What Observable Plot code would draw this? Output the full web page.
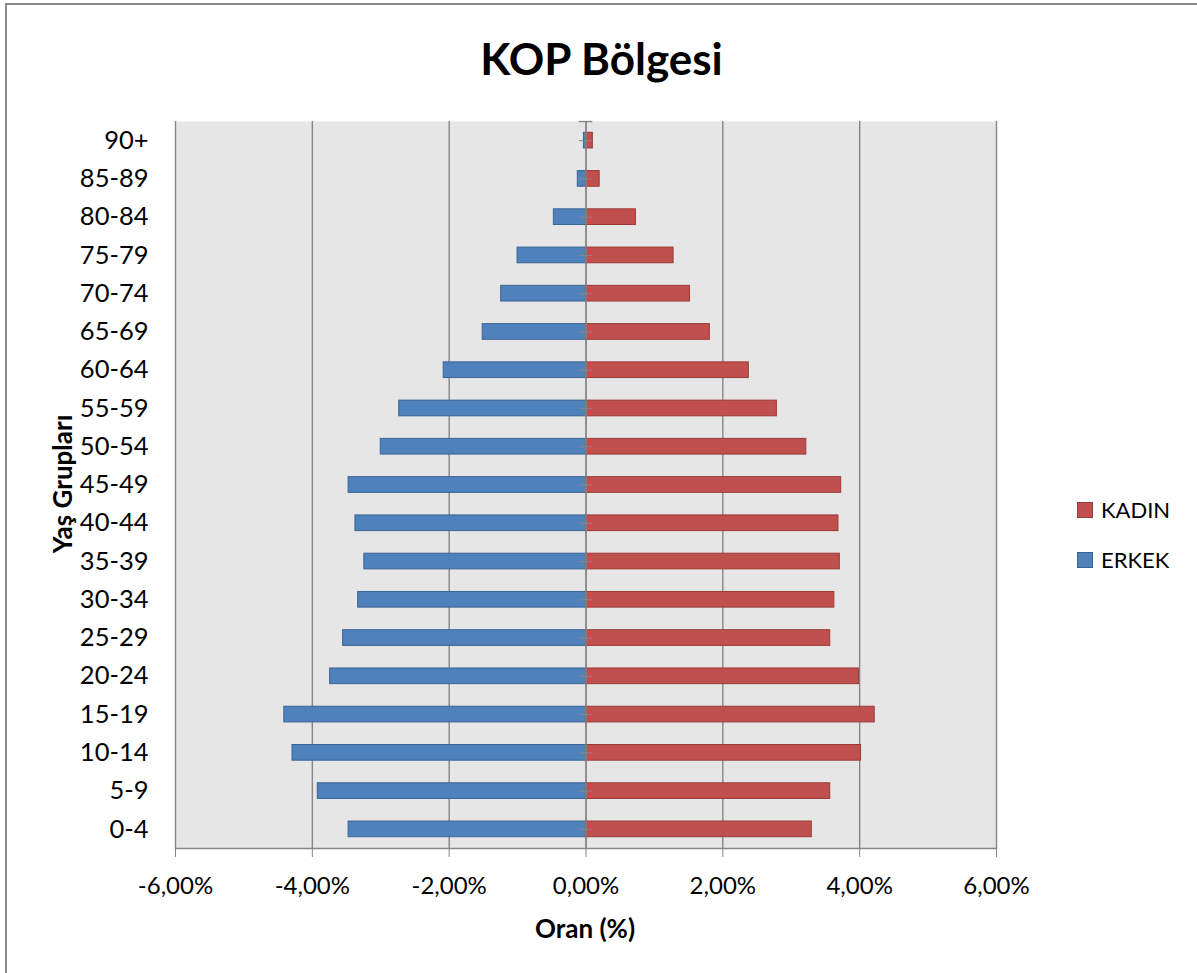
<!DOCTYPE html>
<html>
<head>
<meta charset="utf-8">
<script src="https://cdn.jsdelivr.net/npm/d3@7"></script>
<script src="https://cdn.jsdelivr.net/npm/@observablehq/plot@0.6"></script>
<style>
  html, body { margin: 0; padding: 0; background: #fff; overflow: hidden; }
  #wrap { position: relative; width: 1197px; height: 973px; font-family: Lato, "Open Sans", sans-serif; color: #000; }
  #border { position: absolute; left: 5px; top: 3px; width: 1300px; height: 1100px; border: 2px solid #8a8a8a; box-sizing: border-box; }
  #chart { position: absolute; left: 0; top: 0; }
  #title { position: absolute; left: 0; width: 1203px; top: 33px; text-align: center; font-weight: bold; font-size: 44px; line-height: 50px; }
  #ytitle { position: absolute; left: 62px; top: 484px; transform: translate(-50%, -50%) rotate(-90deg); font-weight: bold; font-size: 26px; white-space: nowrap; }
  #xtitle { position: absolute; left: 585px; top: 928px; transform: translate(-50%, -50%); font-weight: bold; font-size: 26px; white-space: nowrap; }
  .leg { position: absolute; left: 1077px; display: flex; align-items: center; font-size: 22px; }
  .sw { width: 14px; height: 14px; margin-right: 8px; border: 1px solid; }
</style>
</head>
<body>
<div id="wrap">
  <div id="border"></div>
  <div id="chart"></div>
  <div id="title">KOP Bölgesi</div>
  <div id="ytitle">Yaş Grupları</div>
  <div id="xtitle">Oran (%)</div>
  <div class="leg" style="top:496px"><div class="sw" style="background:#C0504D;border-color:#9A3B38"></div><span>KADIN</span></div>
  <div class="leg" style="top:546px"><div class="sw" style="background:#4F81BD;border-color:#3B6496"></div><span>ERKEK</span></div>
</div>
<script>
const ageGroups = ["0-4","5-9","10-14","15-19","20-24","25-29","30-34","35-39","40-44","45-49","50-54","55-59","60-64","65-69","70-74","75-79","80-84","85-89","90+"];
const erkek = [-3.47, -3.92, -4.29, -4.41, -3.74, -3.55, -3.33, -3.24, -3.37, -3.47, -3.00, -2.73, -2.08, -1.51, -1.24, -1.00, -0.47, -0.12, -0.03];
const kadin = [3.30, 3.57, 4.02, 4.22, 3.99, 3.57, 3.63, 3.71, 3.69, 3.73, 3.22, 2.79, 2.38, 1.81, 1.52, 1.28, 0.73, 0.20, 0.10];
const xTicks = [-6, -4, -2, 0, 2, 4, 6];

const maleData = ageGroups.map((a, i) => ({age: a, value: erkek[i]}));
const femaleData = ageGroups.map((a, i) => ({age: a, value: kadin[i]}));
const fmt = d => d.toFixed(2).replace(".", ",") + "%";
const gray = "#868686";

const chart = Plot.plot({
  width: 1197,
  height: 973,
  marginTop: 121,
  marginBottom: 125,
  marginLeft: 175,
  marginRight: 201,
  style: {fontFamily: "Lato, 'Open Sans', sans-serif", fontSize: "24px", color: "#000", background: "transparent", overflow: "visible"},
  x: {domain: [-6, 6]},
  y: {domain: ageGroups.slice().reverse(), paddingInner: 0.59, paddingOuter: 0.295, round: false},
  marks: [
    Plot.frame({fill: "#e6e6e6", stroke: "none"}),
    Plot.ruleX(xTicks, {stroke: gray, strokeWidth: 1.4}),
    Plot.barX(maleData, {y: "age", x: "value", fill: "#4F81BD", stroke: "#3B6496", strokeWidth: 1}),
    Plot.barX(femaleData, {y: "age", x: "value", fill: "#C0504D", stroke: "#9A3B38", strokeWidth: 1}),
    Plot.ruleX([0], {stroke: gray, strokeWidth: 1.4}),
    Plot.ruleY(ageGroups, {y: d => d, x1: -0.1, x2: 0.1, stroke: gray, strokeOpacity: 0.85, strokeWidth: 1.2}),
    Plot.ruleY([ageGroups[ageGroups.length - 1]], {y: d => d, x1: -0.1, x2: 0.1, dy: -19.1, stroke: gray, strokeWidth: 1.4}),
    Plot.frame({anchor: "bottom", stroke: gray, strokeWidth: 1.5}),
    Plot.axisX(xTicks, {tickSize: 9, tickPadding: 19, tickFormat: fmt, stroke: gray, label: null}),
    Plot.axisY({tickSize: 0, tickPadding: 27, label: null, fontSize: 25.5})
  ]
});
document.getElementById("chart").appendChild(chart);
</script>
</body>
</html>
